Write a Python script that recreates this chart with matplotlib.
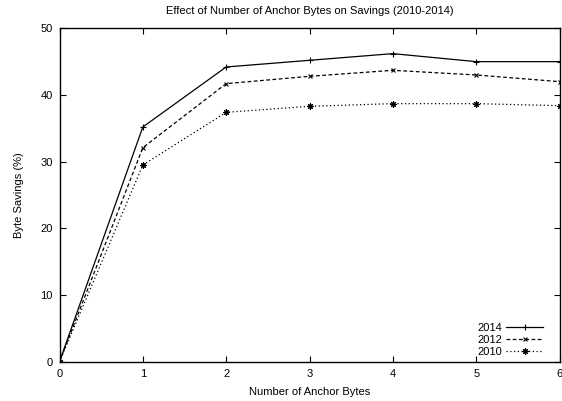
import matplotlib
matplotlib.use("Agg")
import matplotlib.pyplot as plt

plt.rcParams['font.family'] = ['Liberation Sans', 'DejaVu Sans']

anchor_bytes = [0, 1, 2, 3, 4, 5, 6]
savings_2014 = [0.0, 35.2, 44.2, 45.2, 46.2, 45.0, 45.0]
savings_2012 = [0.0, 32.1, 41.7, 42.8, 43.7, 43.0, 42.0]
savings_2010 = [0.0, 29.5, 37.4, 38.3, 38.7, 38.7, 38.4]
x_ticks = [0, 1, 2, 3, 4, 5, 6]
y_ticks = [0, 10, 20, 30, 40, 50]

fig = plt.figure(figsize=(5.62, 4.01), dpi=100)
ax = fig.add_axes([59.5 / 562, 1 - 361.7 / 401, (559.5 - 59.5) / 562, (361.7 - 28.3) / 401])

ax.plot(anchor_bytes, savings_2014, color='black', lw=0.9, linestyle='-',
        marker='+', markersize=4.5, markeredgewidth=0.8, label='2014')
ax.plot(anchor_bytes, savings_2012, color='black', lw=0.9, linestyle=(0, (3, 2)),
        marker='x', markersize=3.5, markeredgewidth=0.8, label='2012')
ax.plot(anchor_bytes, savings_2010, color='black', lw=0.9, linestyle=(0, (1, 2)),
        marker=(8, 2, 0), markersize=4.5, markeredgewidth=0.8, label='2010')

ax.set_xlim(0, 6)
ax.set_ylim(0, 50)
ax.set_xticks(x_ticks)
ax.set_yticks(y_ticks)
ax.tick_params(direction='in', top=True, right=True, length=4, width=0.8,
               labelsize=8, pad=5)
for s in ax.spines.values():
    s.set_linewidth(1.0)

ax.set_title('Effect of Number of Anchor Bytes on Savings (2010-2014)', fontsize=8, pad=10)
ax.set_xlabel('Number of Anchor Bytes', fontsize=8, labelpad=6)
ax.set_ylabel('Byte Savings (%)', fontsize=8, labelpad=12)

leg = ax.legend(loc='lower right', bbox_to_anchor=(0.976, 0.002), frameon=False,
                markerfirst=False, fontsize=8, handlelength=3.3, labelspacing=0.15,
                borderaxespad=0.0, handletextpad=0.4)

fig.savefig('out.png', dpi=100)
